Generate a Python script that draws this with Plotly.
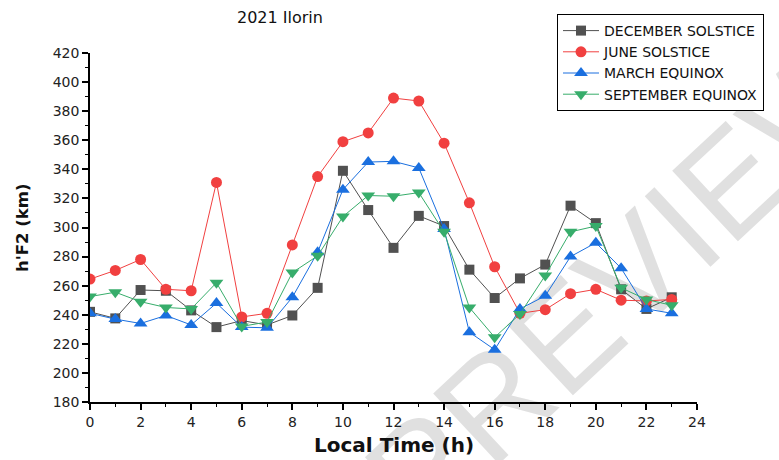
import math
import plotly.graph_objects as go

hours = list(range(24))

december = [242, 237.5, 257, 256.5, 243, 231.5, 236, 233, 239.5, 258.5, 339, 312, 286, 308, 301, 271, 251.5, 265, 274.5, 315, 303, 257.5, 244, 252]
june = [264.5, 270.5, 278, 257.5, 256.5, 331, 238.5, 241, 288, 335, 359, 365, 389, 387, 358, 317, 273, 241, 243.5, 254.5, 257.5, 250, 249.5, 250.5]
march = [241, 237, 234, 239.5, 233, 248, 231.5, 231, 252, 283, 326, 345, 345.5, 341, 299, 228, 216, 244, 253, 280, 289.5, 272, 244, 241]
september = [252.5, 255.5, 249, 245, 244, 262, 232, 235, 269, 280.5, 307.5, 322, 321.5, 324, 297, 245, 224.5, 240.5, 267, 297, 301, 258.5, 250.5, 246.5]

series = [
    ("DECEMBER SOLSTICE", december, "#515151", "square", 10),
    ("JUNE SOLSTICE", june, "#F14040", "circle", 11),
    ("MARCH EQUINOX", march, "#1A6FDF", "triangle-up", 12),
    ("SEPTEMBER EQUINOX", september, "#37AD6B", "triangle-down", 12),
]

FONT = "DejaVu Sans, Arial, sans-serif"

fig = go.Figure()
for name, vals, color, sym, size in series:
    fig.add_trace(go.Scatter(
        x=hours, y=vals, name=name, mode="lines+markers",
        line=dict(color=color, width=1),
        marker=dict(symbol=sym, size=size, color=color, line=dict(width=0)),
    ))

axis_font = dict(family=FONT, size=14, color="#222")

L, R, T, B = 90, 82, 53, 58
PW, PH = 779 - L - R, 460 - T - B


def px(x):
    return (x - L) / PW


def py(y):
    return (460 - B - y) / PH


# watermark placement (pixel centre and angle)
wm_cx, wm_cy, wm_ang, wm_half = 672, 330, math.radians(43), 400
dx, dy = wm_half * math.cos(wm_ang), wm_half * math.sin(wm_ang)

fig.update_layout(
    width=779, height=460,
    margin=dict(l=L, r=R, t=T, b=B),
    paper_bgcolor="white", plot_bgcolor="rgba(0,0,0,0)",
    showlegend=True,
    legend=dict(
        x=px(557), y=py(14), xanchor="left", yanchor="top",
        bordercolor="black", borderwidth=1, bgcolor="white",
        font=dict(family=FONT, size=14, color="#111"),
        itemwidth=36, tracegroupgap=0,
    ),
    xaxis=dict(
        range=[0, 24], dtick=2, tick0=0, showgrid=False, zeroline=False,
        showline=True, linecolor="black", linewidth=1.5,
        ticks="outside", ticklen=6, tickcolor="black", tickwidth=1.5,
        tickfont=axis_font,
        minor=dict(dtick=1, ticks="outside", ticklen=3, tickcolor="black", tickwidth=1, showgrid=False),
    ),
    yaxis=dict(
        range=[180, 420], dtick=20, tick0=180, showgrid=False, zeroline=False,
        showline=True, linecolor="black", linewidth=1.5,
        ticks="outside", ticklen=6, tickcolor="black", tickwidth=1.5,
        tickfont=axis_font,
        minor=dict(dtick=10, ticks="outside", ticklen=3, tickcolor="black", tickwidth=1, showgrid=False),
    ),
    annotations=[
        dict(text="2021 Ilorin", xref="paper", yref="paper", x=px(280), y=py(18),
             xanchor="center", yanchor="middle", showarrow=False,
             font=dict(family=FONT, size=16, color="#111")),
        dict(text="<b>h'F2 (km)</b>", xref="paper", yref="paper", x=px(22), y=py(228),
             xanchor="center", yanchor="middle", textangle=-90, showarrow=False,
             font=dict(family=FONT, size=16.5, color="#111")),
        dict(text="<b>Local Time (h)</b>", xref="paper", yref="paper", x=px(394), y=py(445),
             xanchor="center", yanchor="middle", showarrow=False,
             font=dict(family=FONT, size=20, color="#111")),
    ],
    shapes=[
        dict(type="line", xref="paper", yref="paper",
             x0=px(wm_cx - dx), y0=py(wm_cy + dy), x1=px(wm_cx + dx), y1=py(wm_cy - dy),
             line=dict(width=0, color="rgba(0,0,0,0)"), layer="below",
             label=dict(text="PREVIEW", textposition="middle",
                        font=dict(family="Arial, Liberation Sans, sans-serif", size=140, color="#e0e0e0"))),
    ],
)

fig.write_html("out.html")
